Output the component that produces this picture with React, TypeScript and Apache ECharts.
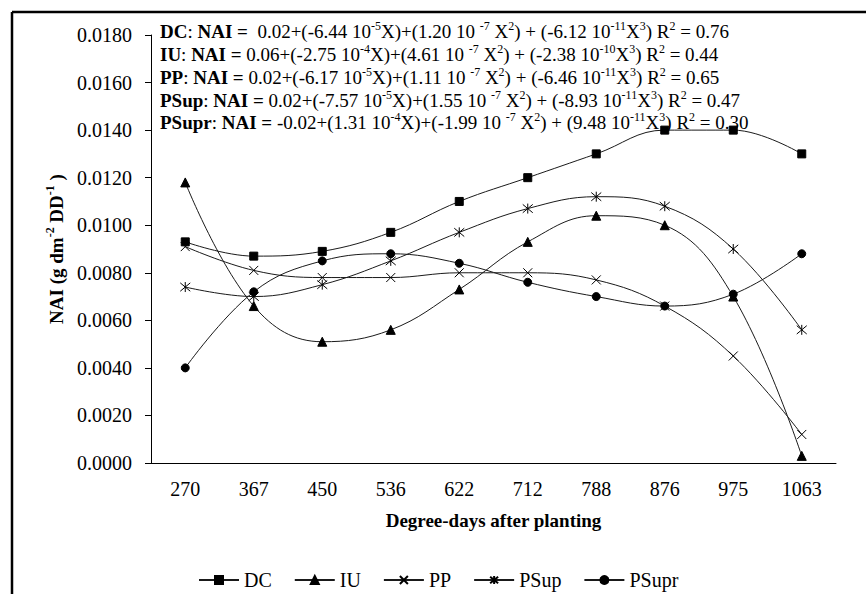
import React, { useEffect, useRef } from 'react';
import * as echarts from 'echarts';

const categories = ['270', '367', '450', '536', '622', '712', '788', '876', '975', '1063'];
const seriesNames = ['DC', 'IU', 'PP', 'PSup', 'PSupr'];
const dcValues = [0.0093, 0.0087, 0.0089, 0.0097, 0.011, 0.012, 0.013, 0.014, 0.014, 0.013];
const iuValues = [0.0118, 0.0066, 0.0051, 0.0056, 0.0073, 0.0093, 0.0104, 0.01, 0.007, 0.0003];
const ppValues = [0.0091, 0.0081, 0.0078, 0.0078, 0.008, 0.008, 0.0077, 0.0066, 0.0045, 0.0012];
const psupValues = [0.0074, 0.007, 0.0075, 0.0085, 0.0097, 0.0107, 0.0112, 0.0108, 0.009, 0.0056];
const psuprValues = [0.004, 0.0072, 0.0085, 0.0088, 0.0084, 0.0076, 0.007, 0.0066, 0.0071, 0.0088];

const yMin = 0;
const yMax = 0.018;
const yInterval = 0.002;

// equation parts: name, constant, a1, e1, a2, e2, a3, e3, R2
const eqNames = ['DC', 'IU', 'PP', 'PSup', 'PSupr'];
const eqConst = [' 0.02', '0.06', '0.02', '0.02', '-0.02'];
const eqA1 = ['-6.44', '-2.75', '-6.17', '-7.57', '1.31'];
const eqE1 = ['-5', '-4', '-5', '-5', '-4'];
const eqA2 = ['1.20', '4.61', '1.11', '1.55', '-1.99'];
const eqE2 = ['-7', '-7', '-7', '-7', '-7'];
const eqA3 = ['-6.12', '-2.38', '-6.46', '-8.93', '9.48'];
const eqE3 = ['-11', '-10', '-11', '-11', '-11'];
const eqR2 = ['0.76', '0.44', '0.65', '0.47', '0.30'];

const FONT = 'Liberation Serif, Times New Roman, DejaVu Serif, serif';
const LINE = '#1a1a1a';

const X_SYMBOL = 'path://M0,0L10,10M0,10L10,0';
const STAR_SYMBOL = 'path://M0,0L10,10M0,10L10,0M5,-1L5,11';

function eqText(i: number) {
  return (
    `{b|${eqNames[i]}}{n|: }{b|NAI =}{n| ${eqConst[i]}+(${eqA1[i]} 10}{s|${eqE1[i]}}` +
    `{n|X)+(${eqA2[i]} 10 }{s|${eqE2[i]}}{n| X}{s|2}{n|) + (${eqA3[i]} 10}{s|${eqE3[i]}}` +
    `{n|X}{s|3}{n|) R}{s|2}{n| = ${eqR2[i]}}`
  );
}

const eqRich = {
  b: { fontFamily: FONT, fontSize: 19, fontWeight: 'bold', lineHeight: 21, fill: '#000', verticalAlign: 'bottom' },
  n: { fontFamily: FONT, fontSize: 19, lineHeight: 21, fill: '#000', verticalAlign: 'bottom' },
  s: { fontFamily: FONT, fontSize: 12, lineHeight: 12, fill: '#000', verticalAlign: 'top' },
};

export default function App() {
  const ref = useRef<HTMLDivElement>(null);
  useEffect(() => {
    const chart = echarts.init(ref.current!, null, { renderer: 'svg' });
    const symbols = ['rect', 'triangle', X_SYMBOL, STAR_SYMBOL, 'circle'];
    const sizes = [8, 9, 9, 10, 8];
    const data = [dcValues, iuValues, ppValues, psupValues, psuprValues];
    const eqTops = [20, 43, 66, 89, 111];
    chart.setOption({
      animation: false,
      backgroundColor: '#fff',
      textStyle: { fontFamily: FONT },
      grid: { left: 151, right: 30, top: 35, bottom: 131, containLabel: false },
      xAxis: {
        type: 'category',
        data: categories,
        boundaryGap: true,
        axisLine: { lineStyle: { color: '#000', width: 1 } },
        axisTick: { length: 6, lineStyle: { color: '#000' } },
        axisLabel: { color: '#000', fontFamily: FONT, fontSize: 20, margin: 16 },
        name: 'Degree-days after planting',
        nameLocation: 'middle',
        nameGap: 48,
        nameTextStyle: { color: '#000', fontFamily: FONT, fontSize: 19, fontWeight: 'bold' },
        splitLine: { show: false },
      },
      yAxis: {
        type: 'value',
        min: yMin,
        max: yMax,
        interval: yInterval,
        axisLine: { show: true, lineStyle: { color: '#000', width: 1 } },
        axisTick: { show: true, length: 6, lineStyle: { color: '#000' } },
        axisLabel: {
          color: '#000',
          fontFamily: FONT,
          fontSize: 20,
          margin: 19,
          formatter: (v: number) => v.toFixed(4),
        },
        splitLine: { show: false },
        name: '{b|NAI (g dm}{s|-2}{b| DD}{s|-1}{b| )}',
        nameLocation: 'middle',
        nameGap: 84,
        nameTextStyle: {
          fontFamily: FONT,
          rich: {
            b: { fontFamily: FONT, fontSize: 19, fontWeight: 'bold', color: '#000', lineHeight: 22, verticalAlign: 'bottom' },
            s: { fontFamily: FONT, fontSize: 12, fontWeight: 'bold', color: '#000', lineHeight: 13, verticalAlign: 'top' },
          },
        },
      },
      legend: {
        left: 193,
        top: 565,
        itemWidth: 40,
        itemHeight: 10,
        itemGap: 22,
        textStyle: { color: '#000', fontFamily: FONT, fontSize: 20, padding: [0, 0, 0, 0] },
        data: seriesNames,
      },
      graphic: [
        {
          type: 'line',
          shape: { x1: 12, y1: 12, x2: 866, y2: 12 },
          style: { stroke: '#000', lineWidth: 2.5 },
        },
        {
          type: 'line',
          shape: { x1: 12, y1: 12, x2: 12, y2: 594 },
          style: { stroke: '#000', lineWidth: 2.5 },
        },
        ...eqNames.map((_, i) => ({
          type: 'text',
          left: 160,
          top: eqTops[i],
          style: { text: eqText(i), rich: eqRich, fill: '#000', fontFamily: FONT, fontSize: 19 },
        })),
      ],
      series: seriesNames.map((name, i) => ({
        name,
        type: 'line',
        data: data[i],
        smooth: 0.4,
        symbol: symbols[i],
        symbolSize: sizes[i],
        showSymbol: true,
        lineStyle: { color: LINE, width: 1 },
        itemStyle: { color: '#000', borderColor: '#000', borderWidth: 1 },
        emphasis: { disabled: true },
      })),
    });
    return () => chart.dispose();
  }, []);
  return (
    <div
      ref={ref}
      style={{ position: 'fixed', left: 0, top: 0, width: 866, height: 594, background: '#fff' }}
    />
  );
}
